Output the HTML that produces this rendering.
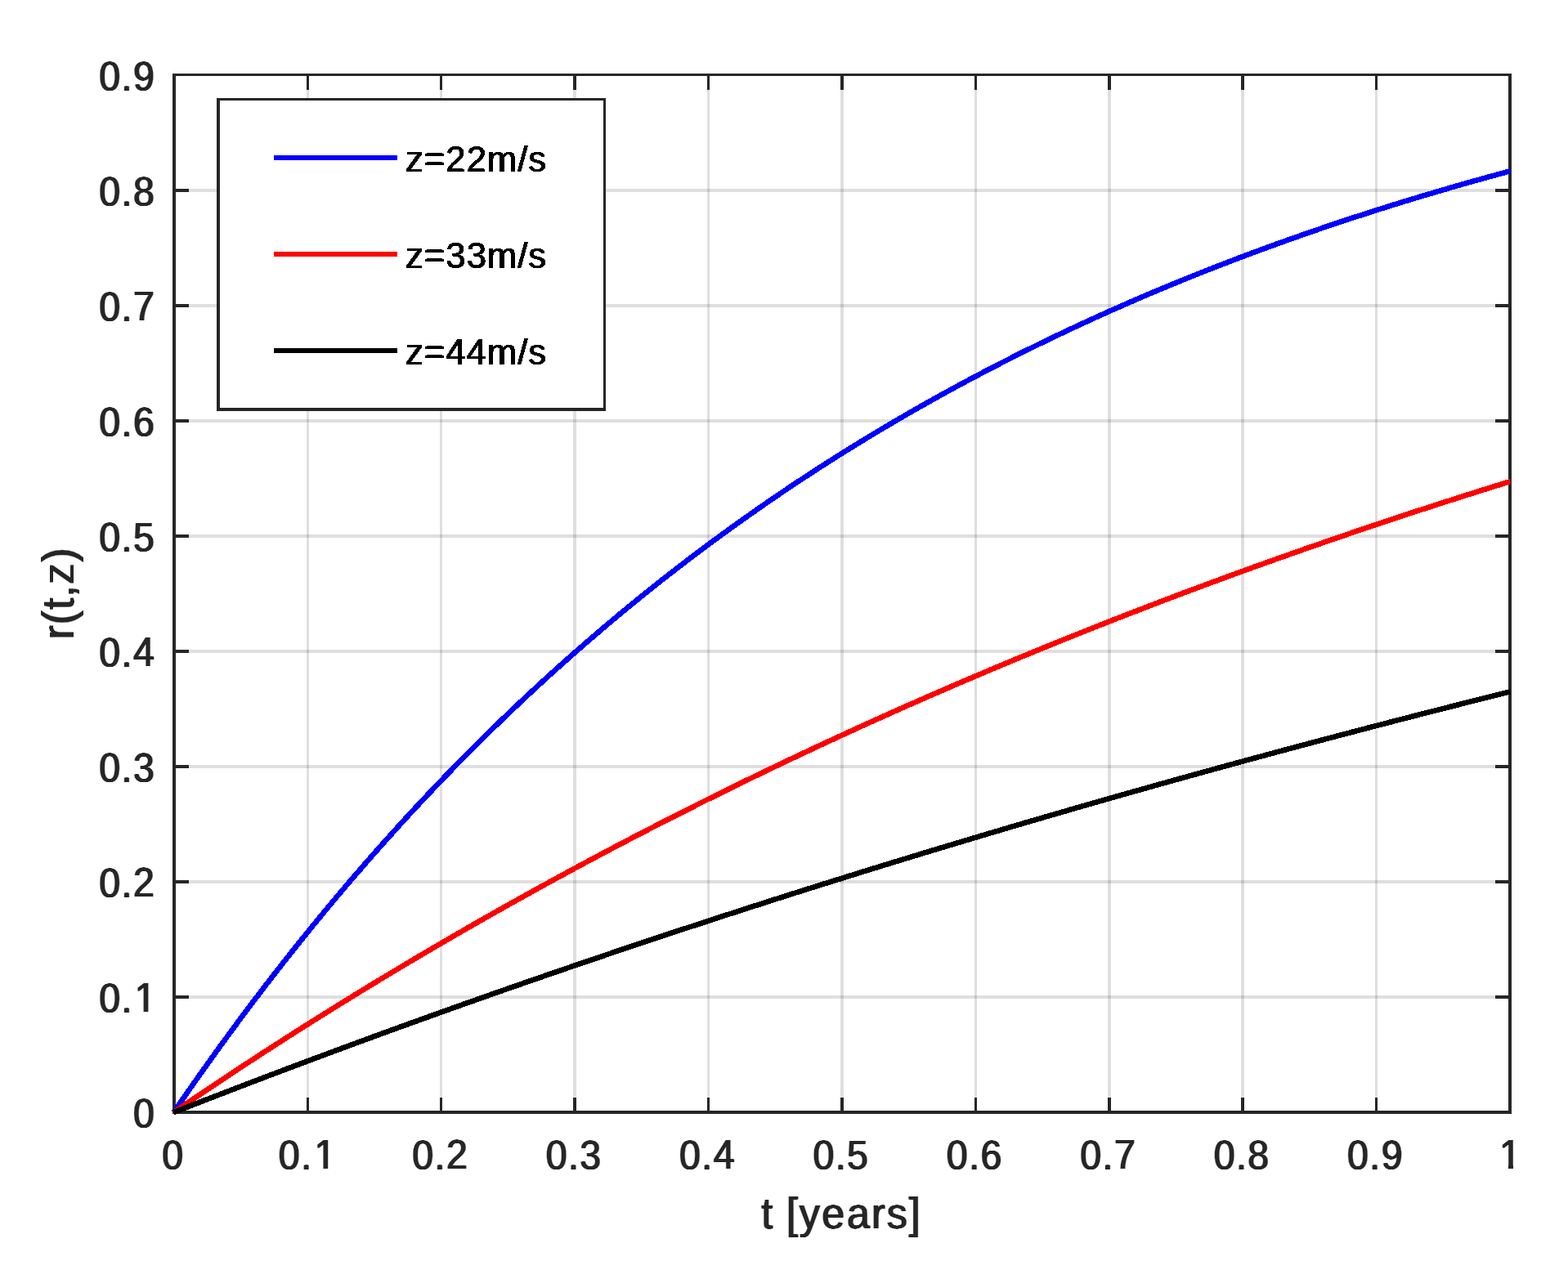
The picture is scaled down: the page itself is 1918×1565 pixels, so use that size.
<!DOCTYPE html>
<html lang="en">
<head>
<meta charset="utf-8">
<title>r(t,z) versus t [years]</title>
<style>
html,body{margin:0;padding:0;background:#fff;}
body{width:1918px;height:1565px;overflow:hidden;}
svg{display:block;}
text{font-family:"Liberation Sans",sans-serif;font-kerning:none;}
.tk{font-size:50.8px;fill:#262626;}
.lb{font-size:53.5px;fill:#262626;}
.lv{font-size:55.0px;fill:#262626;}
.lg{font-size:45.0px;fill:#000;}
.cr{shape-rendering:crispEdges;}
</style>
</head>
<body>
<svg width="1918" height="1565" viewBox="0 0 1918 1565">
<rect x="0" y="0" width="1918" height="1565" fill="#ffffff"/>
<filter id="hx" filterUnits="userSpaceOnUse" x="0" y="0" width="1918" height="1565" color-interpolation-filters="sRGB">
<feConvolveMatrix in="SourceAlpha" order="3 1" kernelMatrix="0.7 1 0.7" divisor="1" edgeMode="none" preserveAlpha="false" result="d"/>
<feFlood flood-color="#262626"/><feComposite operator="in" in2="d"/>
</filter>
<filter id="hk" filterUnits="userSpaceOnUse" x="267" y="121" width="472" height="379" color-interpolation-filters="sRGB">
<feConvolveMatrix in="SourceAlpha" order="3 1" kernelMatrix="0.6 1 0.6" divisor="1" edgeMode="none" preserveAlpha="false" result="d"/>
<feComponentTransfer in="d" result="b"><feFuncA type="discrete" tableValues="0 1"/></feComponentTransfer>
<feFlood flood-color="#000000"/><feComposite operator="in" in2="b"/>
</filter>
<filter id="vx" filterUnits="userSpaceOnUse" x="0" y="0" width="1918" height="1565" color-interpolation-filters="sRGB">
<feConvolveMatrix in="SourceAlpha" order="1 3" kernelMatrix="0.7 1 0.7" divisor="1" edgeMode="none" preserveAlpha="false" result="d"/>
<feFlood flood-color="#262626"/><feComposite operator="in" in2="d"/>
</filter>
<g fill="#262626" fill-opacity="0.15">
<rect x="375" y="93" width="3" height="1266"/>
<rect x="538" y="93" width="3" height="1266"/>
<rect x="701" y="93" width="4" height="1266"/>
<rect x="865" y="93" width="3" height="1266"/>
<rect x="1028" y="93" width="4" height="1266"/>
<rect x="1192" y="93" width="3" height="1266"/>
<rect x="1355" y="93" width="4" height="1266"/>
<rect x="1518" y="93" width="4" height="1266"/>
<rect x="1682" y="93" width="3" height="1266"/>
<rect x="215" y="1218" width="1630" height="4"/>
<rect x="215" y="1077" width="1630" height="4"/>
<rect x="215" y="936" width="1630" height="4"/>
<rect x="215" y="795" width="1630" height="4"/>
<rect x="215" y="654" width="1630" height="4"/>
<rect x="215" y="513" width="1630" height="4"/>
<rect x="215" y="372" width="1630" height="4"/>
<rect x="215" y="231" width="1630" height="4"/>
</g>
<g fill="#262626">
<rect x="211" y="90" width="1638" height="3"/>
<rect x="211" y="1359" width="1638" height="4"/>
<rect x="211" y="93" width="4" height="1266"/>
<rect x="1845" y="93" width="4" height="1266"/>
<rect x="375" y="1343" width="3" height="16"/>
<rect x="375" y="93" width="3" height="17"/>
<rect x="538" y="1343" width="3" height="16"/>
<rect x="538" y="93" width="3" height="17"/>
<rect x="701" y="1343" width="4" height="16"/>
<rect x="701" y="93" width="4" height="17"/>
<rect x="865" y="1343" width="3" height="16"/>
<rect x="865" y="93" width="3" height="17"/>
<rect x="1028" y="1343" width="4" height="16"/>
<rect x="1028" y="93" width="4" height="17"/>
<rect x="1192" y="1343" width="3" height="16"/>
<rect x="1192" y="93" width="3" height="17"/>
<rect x="1355" y="1343" width="4" height="16"/>
<rect x="1355" y="93" width="4" height="17"/>
<rect x="1518" y="1343" width="4" height="16"/>
<rect x="1518" y="93" width="4" height="17"/>
<rect x="1682" y="1343" width="3" height="16"/>
<rect x="1682" y="93" width="3" height="17"/>
<rect x="215" y="1218" width="16" height="4"/>
<rect x="1829" y="1218" width="16" height="4"/>
<rect x="215" y="1077" width="16" height="4"/>
<rect x="1829" y="1077" width="16" height="4"/>
<rect x="215" y="936" width="16" height="4"/>
<rect x="1829" y="936" width="16" height="4"/>
<rect x="215" y="795" width="16" height="4"/>
<rect x="1829" y="795" width="16" height="4"/>
<rect x="215" y="654" width="16" height="4"/>
<rect x="1829" y="654" width="16" height="4"/>
<rect x="215" y="513" width="16" height="4"/>
<rect x="1829" y="513" width="16" height="4"/>
<rect x="215" y="372" width="16" height="4"/>
<rect x="1829" y="372" width="16" height="4"/>
<rect x="215" y="231" width="16" height="4"/>
<rect x="1829" y="231" width="16" height="4"/>
</g>
<g class="cr" fill="none" stroke-width="6.6" stroke-linejoin="round">
<polyline stroke="#0000ff" points="212.4,1361.1 220.58,1349.19 228.75,1337.38 236.93,1325.68 245.1,1314.07 253.28,1302.55 261.45,1291.14 269.62,1279.82 277.8,1268.6 285.98,1257.47 294.15,1246.44 302.32,1235.5 310.5,1224.65 318.68,1213.89 326.85,1203.23 335.02,1192.65 343.2,1182.17 351.38,1171.77 359.55,1161.46 367.73,1151.24 375.9,1141.1 384.07,1131.05 392.25,1121.08 400.43,1111.2 408.6,1101.4 416.77,1091.68 424.95,1082.05 433.12,1072.5 441.3,1063.03 449.48,1053.63 457.65,1044.32 465.83,1035.09 474,1025.93 482.18,1016.85 490.35,1007.85 498.52,998.92 506.7,990.07 514.88,981.29 523.05,972.59 531.23,963.96 539.4,955.41 547.57,946.92 555.75,938.51 563.92,930.17 572.1,921.9 580.27,913.7 588.45,905.57 596.62,897.51 604.8,889.51 612.98,881.58 621.15,873.72 629.33,865.93 637.5,858.2 645.68,850.54 653.85,842.94 662.03,835.4 670.2,827.93 678.38,820.53 686.55,813.18 694.73,805.9 702.9,798.68 711.08,791.52 719.25,784.42 727.42,777.38 735.6,770.4 743.77,763.47 751.95,756.61 760.12,749.8 768.3,743.06 776.47,736.37 784.65,729.73 792.82,723.15 801,716.63 809.17,710.16 817.35,703.75 825.52,697.39 833.7,691.08 841.88,684.83 850.05,678.63 858.23,672.48 866.4,666.39 874.58,660.34 882.75,654.35 890.92,648.41 899.1,642.52 907.27,636.68 915.45,630.88 923.62,625.14 931.8,619.44 939.98,613.79 948.15,608.2 956.33,602.64 964.5,597.14 972.68,591.68 980.85,586.26 989.02,580.9 997.2,575.57 1005.38,570.3 1013.55,565.06 1021.73,559.88 1029.9,554.73 1038.08,549.63 1046.25,544.57 1054.42,539.56 1062.6,534.58 1070.78,529.65 1078.95,524.76 1087.12,519.91 1095.3,515.11 1103.48,510.34 1111.65,505.61 1119.83,500.93 1128,496.28 1136.17,491.67 1144.35,487.1 1152.52,482.57 1160.7,478.08 1168.88,473.63 1177.05,469.21 1185.22,464.83 1193.4,460.49 1201.58,456.18 1209.75,451.91 1217.92,447.68 1226.1,443.48 1234.28,439.32 1242.45,435.19 1250.62,431.1 1258.8,427.04 1266.98,423.02 1275.15,419.03 1283.33,415.07 1291.5,411.15 1299.68,407.26 1307.85,403.41 1316.03,399.58 1324.2,395.79 1332.38,392.03 1340.55,388.3 1348.72,384.61 1356.9,380.94 1365.08,377.31 1373.25,373.7 1381.42,370.13 1389.6,366.59 1397.78,363.08 1405.95,359.59 1414.12,356.14 1422.3,352.71 1430.48,349.32 1438.65,345.95 1446.83,342.61 1455,339.3 1463.18,336.02 1471.35,332.76 1479.53,329.54 1487.7,326.34 1495.88,323.16 1504.05,320.02 1512.23,316.9 1520.4,313.8 1528.58,310.73 1536.75,307.69 1544.92,304.68 1553.1,301.69 1561.28,298.72 1569.45,295.78 1577.62,292.87 1585.8,289.98 1593.98,287.11 1602.15,284.27 1610.33,281.45 1618.5,278.65 1626.68,275.88 1634.85,273.14 1643.03,270.41 1651.2,267.71 1659.38,265.03 1667.55,262.38 1675.73,259.74 1683.9,257.13 1692.08,254.54 1700.25,251.98 1708.43,249.43 1716.6,246.91 1724.78,244.4 1732.95,241.92 1741.13,239.46 1749.3,237.02 1757.47,234.6 1765.65,232.2 1773.83,229.83 1782,227.47 1790.17,225.13 1798.35,222.81 1806.53,220.51 1814.7,218.23 1822.88,215.97 1831.05,213.73 1839.23,211.51 1847.4,209.3"/>
<polyline stroke="#ff0000" points="212.4,1361.1 220.58,1355.52 228.75,1349.96 236.93,1344.43 245.1,1338.92 253.28,1333.43 261.45,1327.96 269.62,1322.51 277.8,1317.08 285.98,1311.68 294.15,1306.3 302.32,1300.93 310.5,1295.59 318.68,1290.27 326.85,1284.97 335.02,1279.7 343.2,1274.44 351.38,1269.2 359.55,1263.99 367.73,1258.79 375.9,1253.62 384.07,1248.47 392.25,1243.33 400.43,1238.22 408.6,1233.13 416.77,1228.05 424.95,1223 433.12,1217.97 441.3,1212.96 449.48,1207.96 457.65,1202.99 465.83,1198.04 474,1193.1 482.18,1188.19 490.35,1183.29 498.52,1178.42 506.7,1173.56 514.88,1168.73 523.05,1163.91 531.23,1159.11 539.4,1154.33 547.57,1149.57 555.75,1144.83 563.92,1140.1 572.1,1135.4 580.27,1130.71 588.45,1126.04 596.62,1121.39 604.8,1116.76 612.98,1112.15 621.15,1107.56 629.33,1102.98 637.5,1098.42 645.68,1093.88 653.85,1089.36 662.03,1084.86 670.2,1080.37 678.38,1075.9 686.55,1071.45 694.73,1067.02 702.9,1062.6 711.08,1058.2 719.25,1053.82 727.42,1049.46 735.6,1045.11 743.77,1040.78 751.95,1036.47 760.12,1032.18 768.3,1027.9 776.47,1023.64 784.65,1019.39 792.82,1015.17 801,1010.96 809.17,1006.76 817.35,1002.59 825.52,998.42 833.7,994.28 841.88,990.15 850.05,986.04 858.23,981.94 866.4,977.87 874.58,973.8 882.75,969.76 890.92,965.72 899.1,961.71 907.27,957.71 915.45,953.73 923.62,949.76 931.8,945.81 939.98,941.87 948.15,937.95 956.33,934.04 964.5,930.15 972.68,926.28 980.85,922.42 989.02,918.58 997.2,914.75 1005.38,910.93 1013.55,907.14 1021.73,903.35 1029.9,899.58 1038.08,895.83 1046.25,892.09 1054.42,888.37 1062.6,884.66 1070.78,880.96 1078.95,877.28 1087.12,873.62 1095.3,869.97 1103.48,866.33 1111.65,862.71 1119.83,859.1 1128,855.51 1136.17,851.93 1144.35,848.36 1152.52,844.81 1160.7,841.28 1168.88,837.75 1177.05,834.24 1185.22,830.75 1193.4,827.27 1201.58,823.8 1209.75,820.35 1217.92,816.91 1226.1,813.48 1234.28,810.07 1242.45,806.67 1250.62,803.28 1258.8,799.91 1266.98,796.55 1275.15,793.2 1283.33,789.87 1291.5,786.55 1299.68,783.24 1307.85,779.95 1316.03,776.67 1324.2,773.4 1332.38,770.15 1340.55,766.91 1348.72,763.68 1356.9,760.46 1365.08,757.26 1373.25,754.07 1381.42,750.89 1389.6,747.72 1397.78,744.57 1405.95,741.43 1414.12,738.3 1422.3,735.19 1430.48,732.08 1438.65,728.99 1446.83,725.91 1455,722.85 1463.18,719.79 1471.35,716.75 1479.53,713.72 1487.7,710.7 1495.88,707.69 1504.05,704.7 1512.23,701.71 1520.4,698.74 1528.58,695.78 1536.75,692.84 1544.92,689.9 1553.1,686.98 1561.28,684.06 1569.45,681.16 1577.62,678.27 1585.8,675.39 1593.98,672.53 1602.15,669.67 1610.33,666.83 1618.5,663.99 1626.68,661.17 1634.85,658.36 1643.03,655.56 1651.2,652.77 1659.38,650 1667.55,647.23 1675.73,644.47 1683.9,641.73 1692.08,639 1700.25,636.27 1708.43,633.56 1716.6,630.86 1724.78,628.17 1732.95,625.49 1741.13,622.82 1749.3,620.16 1757.47,617.51 1765.65,614.87 1773.83,612.24 1782,609.63 1790.17,607.02 1798.35,604.42 1806.53,601.84 1814.7,599.26 1822.88,596.7 1831.05,594.14 1839.23,591.59 1847.4,589.06"/>
<polyline stroke="#000000" points="212.4,1361.1 220.58,1357.9 228.75,1354.71 236.93,1351.53 245.1,1348.35 253.28,1345.18 261.45,1342.02 269.62,1338.86 277.8,1335.71 285.98,1332.57 294.15,1329.44 302.32,1326.31 310.5,1323.19 318.68,1320.08 326.85,1316.97 335.02,1313.88 343.2,1310.78 351.38,1307.7 359.55,1304.62 367.73,1301.55 375.9,1298.49 384.07,1295.43 392.25,1292.38 400.43,1289.34 408.6,1286.3 416.77,1283.27 424.95,1280.25 433.12,1277.24 441.3,1274.23 449.48,1271.23 457.65,1268.23 465.83,1265.24 474,1262.26 482.18,1259.29 490.35,1256.32 498.52,1253.36 506.7,1250.4 514.88,1247.46 523.05,1244.52 531.23,1241.58 539.4,1238.65 547.57,1235.73 555.75,1232.82 563.92,1229.91 572.1,1227.01 580.27,1224.12 588.45,1221.23 596.62,1218.35 604.8,1215.47 612.98,1212.6 621.15,1209.74 629.33,1206.89 637.5,1204.04 645.68,1201.19 653.85,1198.36 662.03,1195.53 670.2,1192.71 678.38,1189.89 686.55,1187.08 694.73,1184.27 702.9,1181.48 711.08,1178.69 719.25,1175.9 727.42,1173.12 735.6,1170.35 743.77,1167.58 751.95,1164.82 760.12,1162.07 768.3,1159.32 776.47,1156.58 784.65,1153.85 792.82,1151.12 801,1148.4 809.17,1145.68 817.35,1142.97 825.52,1140.27 833.7,1137.57 841.88,1134.88 850.05,1132.19 858.23,1129.51 866.4,1126.84 874.58,1124.17 882.75,1121.51 890.92,1118.85 899.1,1116.2 907.27,1113.56 915.45,1110.92 923.62,1108.29 931.8,1105.67 939.98,1103.05 948.15,1100.43 956.33,1097.83 964.5,1095.22 972.68,1092.63 980.85,1090.04 989.02,1087.46 997.2,1084.88 1005.38,1082.3 1013.55,1079.74 1021.73,1077.18 1029.9,1074.62 1038.08,1072.07 1046.25,1069.53 1054.42,1066.99 1062.6,1064.46 1070.78,1061.94 1078.95,1059.42 1087.12,1056.9 1095.3,1054.39 1103.48,1051.89 1111.65,1049.39 1119.83,1046.9 1128,1044.41 1136.17,1041.93 1144.35,1039.46 1152.52,1036.99 1160.7,1034.52 1168.88,1032.07 1177.05,1029.61 1185.22,1027.17 1193.4,1024.73 1201.58,1022.29 1209.75,1019.86 1217.92,1017.43 1226.1,1015.02 1234.28,1012.6 1242.45,1010.19 1250.62,1007.79 1258.8,1005.39 1266.98,1003 1275.15,1000.61 1283.33,998.23 1291.5,995.86 1299.68,993.49 1307.85,991.12 1316.03,988.76 1324.2,986.41 1332.38,984.06 1340.55,981.72 1348.72,979.38 1356.9,977.04 1365.08,974.72 1373.25,972.39 1381.42,970.08 1389.6,967.76 1397.78,965.46 1405.95,963.16 1414.12,960.86 1422.3,958.57 1430.48,956.28 1438.65,954 1446.83,951.73 1455,949.46 1463.18,947.19 1471.35,944.93 1479.53,942.68 1487.7,940.43 1495.88,938.18 1504.05,935.94 1512.23,933.71 1520.4,931.48 1528.58,929.25 1536.75,927.03 1544.92,924.82 1553.1,922.61 1561.28,920.41 1569.45,918.21 1577.62,916.01 1585.8,913.82 1593.98,911.64 1602.15,909.46 1610.33,907.28 1618.5,905.11 1626.68,902.95 1634.85,900.79 1643.03,898.64 1651.2,896.49 1659.38,894.34 1667.55,892.2 1675.73,890.06 1683.9,887.93 1692.08,885.81 1700.25,883.69 1708.43,881.57 1716.6,879.46 1724.78,877.35 1732.95,875.25 1741.13,873.16 1749.3,871.06 1757.47,868.98 1765.65,866.89 1773.83,864.81 1782,862.74 1790.17,860.67 1798.35,858.61 1806.53,856.55 1814.7,854.5 1822.88,852.45 1831.05,850.4 1839.23,848.36 1847.4,846.32"/>
</g>
<rect x="265" y="120" width="476" height="383" fill="#ffffff"/>
<g fill="#262626"><rect x="265" y="120" width="476" height="3"/><rect x="265" y="499" width="476" height="4"/><rect x="265" y="123" width="4" height="376"/><rect x="738" y="123" width="3" height="376"/></g>
<rect x="335" y="190" width="151" height="6" fill="#0000ff"/>
<rect x="335" y="308" width="151" height="6" fill="#ff0000"/>
<rect x="335" y="426" width="151" height="6" fill="#000000"/>
<g filter="url(#hk)"><text class="lg" transform="translate(495.1,210) scale(0.971,1)" x="1.06 24.65 51.77 78.02 103.55 142.25 155.61" y="0">z=22m/s</text>
<text class="lg" transform="translate(495.1,328) scale(0.971,1)" x="1.06 24.65 51.77 78.02 103.55 142.25 155.61" y="0">z=33m/s</text>
<text class="lg" transform="translate(495.1,446) scale(0.971,1)" x="1.06 24.65 51.77 78.02 103.55 142.25 155.61" y="0">z=44m/s</text></g>
<g filter="url(#hx)">
<text class="tk" transform="translate(211.2,1431) scale(0.915,1)" x="-14.13" y="0">0</text>
<text class="tk" transform="translate(374.6,1431) scale(0.915,1)" x="-36.91 -7.06 10.74" y="0 0 -1">0.1</text>
<text class="tk" transform="translate(538,1431) scale(0.915,1)" x="-36.91 -7.06 8.66" y="0 0 -1">0.2</text>
<text class="tk" transform="translate(701.4,1431) scale(0.915,1)" x="-36.91 -7.06 8.66" y="0">0.3</text>
<text class="tk" transform="translate(864.8,1431) scale(0.915,1)" x="-36.91 -7.06 8.66" y="0 0 -1">0.4</text>
<text class="tk" transform="translate(1028.2,1431) scale(0.915,1)" x="-36.91 -7.06 8.66" y="0">0.5</text>
<text class="tk" transform="translate(1191.6,1431) scale(0.915,1)" x="-36.91 -7.06 8.66" y="0">0.6</text>
<text class="tk" transform="translate(1355,1431) scale(0.915,1)" x="-36.91 -7.06 8.66" y="0 0 -1">0.7</text>
<text class="tk" transform="translate(1518.4,1431) scale(0.915,1)" x="-36.91 -7.06 8.66" y="0">0.8</text>
<text class="tk" transform="translate(1681.8,1431) scale(0.915,1)" x="-36.91 -7.06 8.66" y="0">0.9</text>
<text class="tk" transform="translate(1845.2,1431) scale(0.915,1)" x="-12.05" y="-1">1</text>
<text class="tk" transform="translate(189.8,1380) scale(0.915,1)" x="-29.32" y="0">0</text>
<text class="tk" transform="translate(189.8,1239) scale(0.915,1)" x="-74.89 -45.04 -27.25" y="0 0 -1">0.1</text>
<text class="tk" transform="translate(189.8,1098) scale(0.915,1)" x="-74.89 -45.04 -29.32" y="0 0 -1">0.2</text>
<text class="tk" transform="translate(189.8,957) scale(0.915,1)" x="-74.89 -45.04 -29.32" y="0">0.3</text>
<text class="tk" transform="translate(189.8,816) scale(0.915,1)" x="-74.89 -45.04 -29.32" y="0 0 -1">0.4</text>
<text class="tk" transform="translate(189.8,675) scale(0.915,1)" x="-74.89 -45.04 -29.32" y="0">0.5</text>
<text class="tk" transform="translate(189.8,534) scale(0.915,1)" x="-74.89 -45.04 -29.32" y="0">0.6</text>
<text class="tk" transform="translate(189.8,393) scale(0.915,1)" x="-74.89 -45.04 -29.32" y="0 0 -1">0.7</text>
<text class="tk" transform="translate(189.8,252) scale(0.915,1)" x="-74.89 -45.04 -29.32" y="0">0.8</text>
<text class="tk" transform="translate(189.8,111) scale(0.915,1)" x="-74.89 -45.04 -29.32" y="0">0.9</text>
<text class="lb" transform="translate(1028.5,1503) scale(0.94,1)" x="-103.35 -87.1 -70.84 -54.03 -24.63 7.91 39.89 59.79 88.49" y="0">t [years]</text>
</g>
<g filter="url(#vx)">
<text class="lv" transform="translate(89.8,726.5) rotate(-90) scale(0.915,1)" x="-60.9 -40.89 -21.01 -4.31 12.96 42.59" y="0">r(t,z)</text>
</g>
<g fill="#ffffff"><rect x="386" y="1426" width="9.43" height="5"/><rect x="401.21" y="1426" width="9.79" height="5"/><rect x="1835" y="1426" width="9.95" height="5"/><rect x="1851.03" y="1426" width="8.97" height="5"/><rect x="166" y="1234" width="9.6" height="5"/><rect x="181.38" y="1234" width="9.62" height="5"/></g>
</svg>
</body>
</html>
